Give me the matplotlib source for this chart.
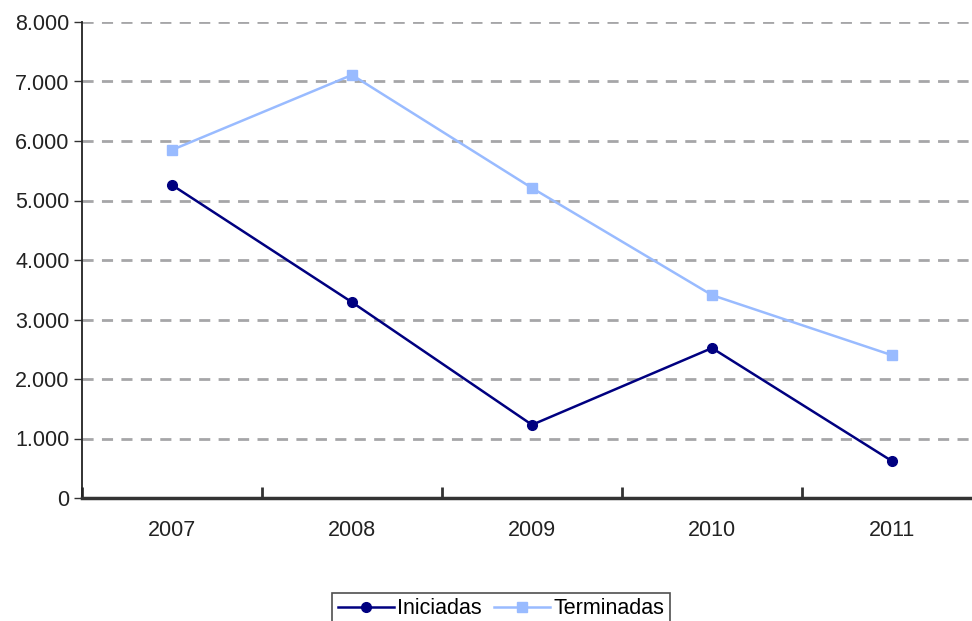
import matplotlib
matplotlib.use("Agg")
import matplotlib.pyplot as plt
from matplotlib.ticker import FuncFormatter

years = ["2007", "2008", "2009", "2010", "2011"]
iniciadas = [5260, 3290, 1230, 2520, 620]
terminadas = [5850, 7110, 5210, 3410, 2400]
yticks = [0, 1000, 2000, 3000, 4000, 5000, 6000, 7000, 8000]

plt.rcParams['font.family'] = ['Liberation Sans', 'DejaVu Sans']

fig = plt.figure(figsize=(9.72, 6.21), dpi=100)
ax = fig.add_axes([82/972, 1-498/621, 900/972, (498-22)/621])

x = list(range(len(years)))
ax.plot(x, iniciadas, color='#000080', lw=1.8, marker='o', ms=7, label='Iniciadas', zorder=3)
ax.plot(x, terminadas, color='#99BBFF', lw=1.8, marker='s', ms=7, label='Terminadas', zorder=3)

ax.set_xlim(-0.5, 4.5)
ax.set_ylim(0, 8000)
ax.set_yticks(yticks)
ax.yaxis.set_major_formatter(FuncFormatter(lambda v, p: f"{int(v):,}".replace(",", ".")))
for v in yticks[1:]:
    ax.axhline(v, color='#A6A6A8', lw=2, ls=(0, (4, 3)), zorder=1)

fs = 15.5
ax.set_xticks(x)
ax.set_xticklabels(years)
ax.tick_params(axis='x', length=0, pad=16, labelsize=fs, colors='#222222')
ax.set_xticks([i - 0.5 for i in range(len(years) + 1)], minor=True)
ax.tick_params(axis='x', which='minor', direction='in', length=8, width=2, color='#333333')
ax.tick_params(axis='y', direction='out', length=6, width=1, labelsize=fs, labelcolor='#222222',
               color='#333333', pad=3)

for s in ['top', 'right']:
    ax.spines[s].set_visible(False)
ax.spines['left'].set_color('#222222')
ax.spines['left'].set_linewidth(1.3)
ax.spines['bottom'].set_color('#333333')
ax.spines['bottom'].set_linewidth(2.5)

leg = fig.legend(loc='center', bbox_to_anchor=(501/972, 1-609/621), ncol=2, frameon=True,
                 fancybox=False, edgecolor='#222222', fontsize=fs, handlelength=2.6,
                 handletextpad=0.15, columnspacing=0.6, borderpad=0.25, borderaxespad=0)
leg.get_frame().set_linewidth(1.2)

fig.savefig('out.png', dpi=100)
